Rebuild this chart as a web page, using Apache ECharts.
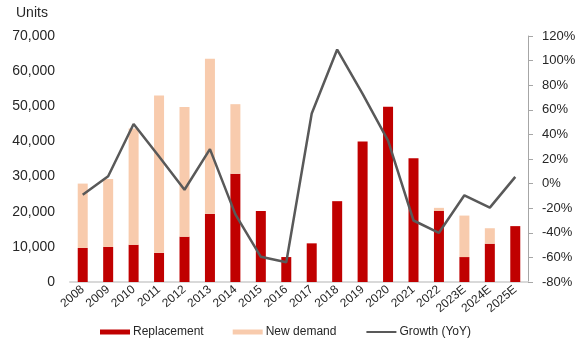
<!DOCTYPE html>
<html>
<head>
<meta charset="utf-8">
<script src="https://cdn.jsdelivr.net/npm/echarts@6/dist/echarts.min.js"></script>
<style>
  html, body { margin: 0; padding: 0; background: #fff; }
  #chart { width: 588px; height: 347px; }
</style>
</head>
<body>
<div id="chart"></div>
<script>
// data
var years = ['2008', '2009', '2010', '2011', '2012', '2013', '2014', '2015', '2016',
  '2017', '2018', '2019', '2020', '2021', '2022', '2023E', '2024E', '2025E'];
var replacement = [9700, 10000, 10600, 8300, 12900, 19400, 30800, 20200, 7100,
  11000, 23000, 40000, 49900, 35200, 20200, 7100, 10900, 15900];
var newDemand = [18300, 19300, 33100, 44800, 36900, 44100, 19800, 0, 0,
  0, 0, 0, 0, 0, 900, 11800, 4400, 0];
var growth = [-9, 6, 48.5, 22, -5, 28, -25, -59.5, -64,
  57, 109, 73, 35, -30, -40, -9.5, -19.5, 5.5];
var leftTicks = { min: 0, max: 70000, step: 10000 };
var rightTicks = { min: -80, max: 120, step: 20 };

var txt = '#262626';
var font = 'Liberation Sans';

var myChart = echarts.init(document.getElementById('chart'));
var option = {
  animation: false,
  textStyle: { fontFamily: font },
  grid: { left: 70, right: 60, top: 36, bottom: 65 },
  graphic: [{
    type: 'text', left: 16, top: 6,
    style: { text: 'Units', fill: txt, font: '14px "Liberation Sans"' }
  }],
  legend: {
    bottom: 4, left: 95,
    itemGap: 29, itemWidth: 30, itemHeight: 5,
    textStyle: { fontSize: 12, color: txt, fontFamily: font, padding: [0, 0, 0, -2] },
    data: [
      { name: 'Replacement', icon: 'rect' },
      { name: 'New demand', icon: 'rect' },
      // hide the dot that the line legend icon draws
      { name: 'Growth (YoY)', itemStyle: { opacity: 0 }, lineStyle: { width: 2 } }
    ]
  },
  xAxis: {
    type: 'category',
    data: years,
    axisLine: { lineStyle: { color: '#d9d9d9', width: 2 } },
    axisTick: { show: false },
    axisLabel: { rotate: 40, color: txt, fontSize: 12, margin: 6, interval: 0 }
  },
  yAxis: [{
    type: 'value',
    min: leftTicks.min, max: leftTicks.max, interval: leftTicks.step,
    splitLine: { show: false },
    axisLine: { show: false },
    axisTick: { show: false },
    axisLabel: {
      color: txt, fontSize: 14, margin: 15,
      formatter: function (v) { return v.toLocaleString('en-US'); }
    }
  }, {
    type: 'value',
    min: rightTicks.min, max: rightTicks.max, interval: rightTicks.step,
    splitLine: { show: false },
    axisLine: { show: true, lineStyle: { color: '#a6a6a6', width: 1 } },
    axisTick: { show: true, length: 5, lineStyle: { color: '#a6a6a6' } },
    axisLabel: {
      color: txt, fontSize: 13, margin: 14,
      formatter: function (v) { return v + '%'; }
    }
  }],
  series: [{
    name: 'Replacement',
    type: 'bar',
    stack: 'units',
    barWidth: 10,
    itemStyle: { color: '#c00000' },
    data: replacement
  }, {
    name: 'New demand',
    type: 'bar',
    stack: 'units',
    itemStyle: { color: '#f8cbad' },
    data: newDemand
  }, {
    name: 'Growth (YoY)',
    type: 'line',
    yAxisIndex: 1,
    symbol: 'none',
    z: 5,
    lineStyle: { color: '#595959', width: 2.5 },
    itemStyle: { color: '#595959' },
    data: growth
  }]
};
myChart.setOption(option);
</script>
</body>
</html>
